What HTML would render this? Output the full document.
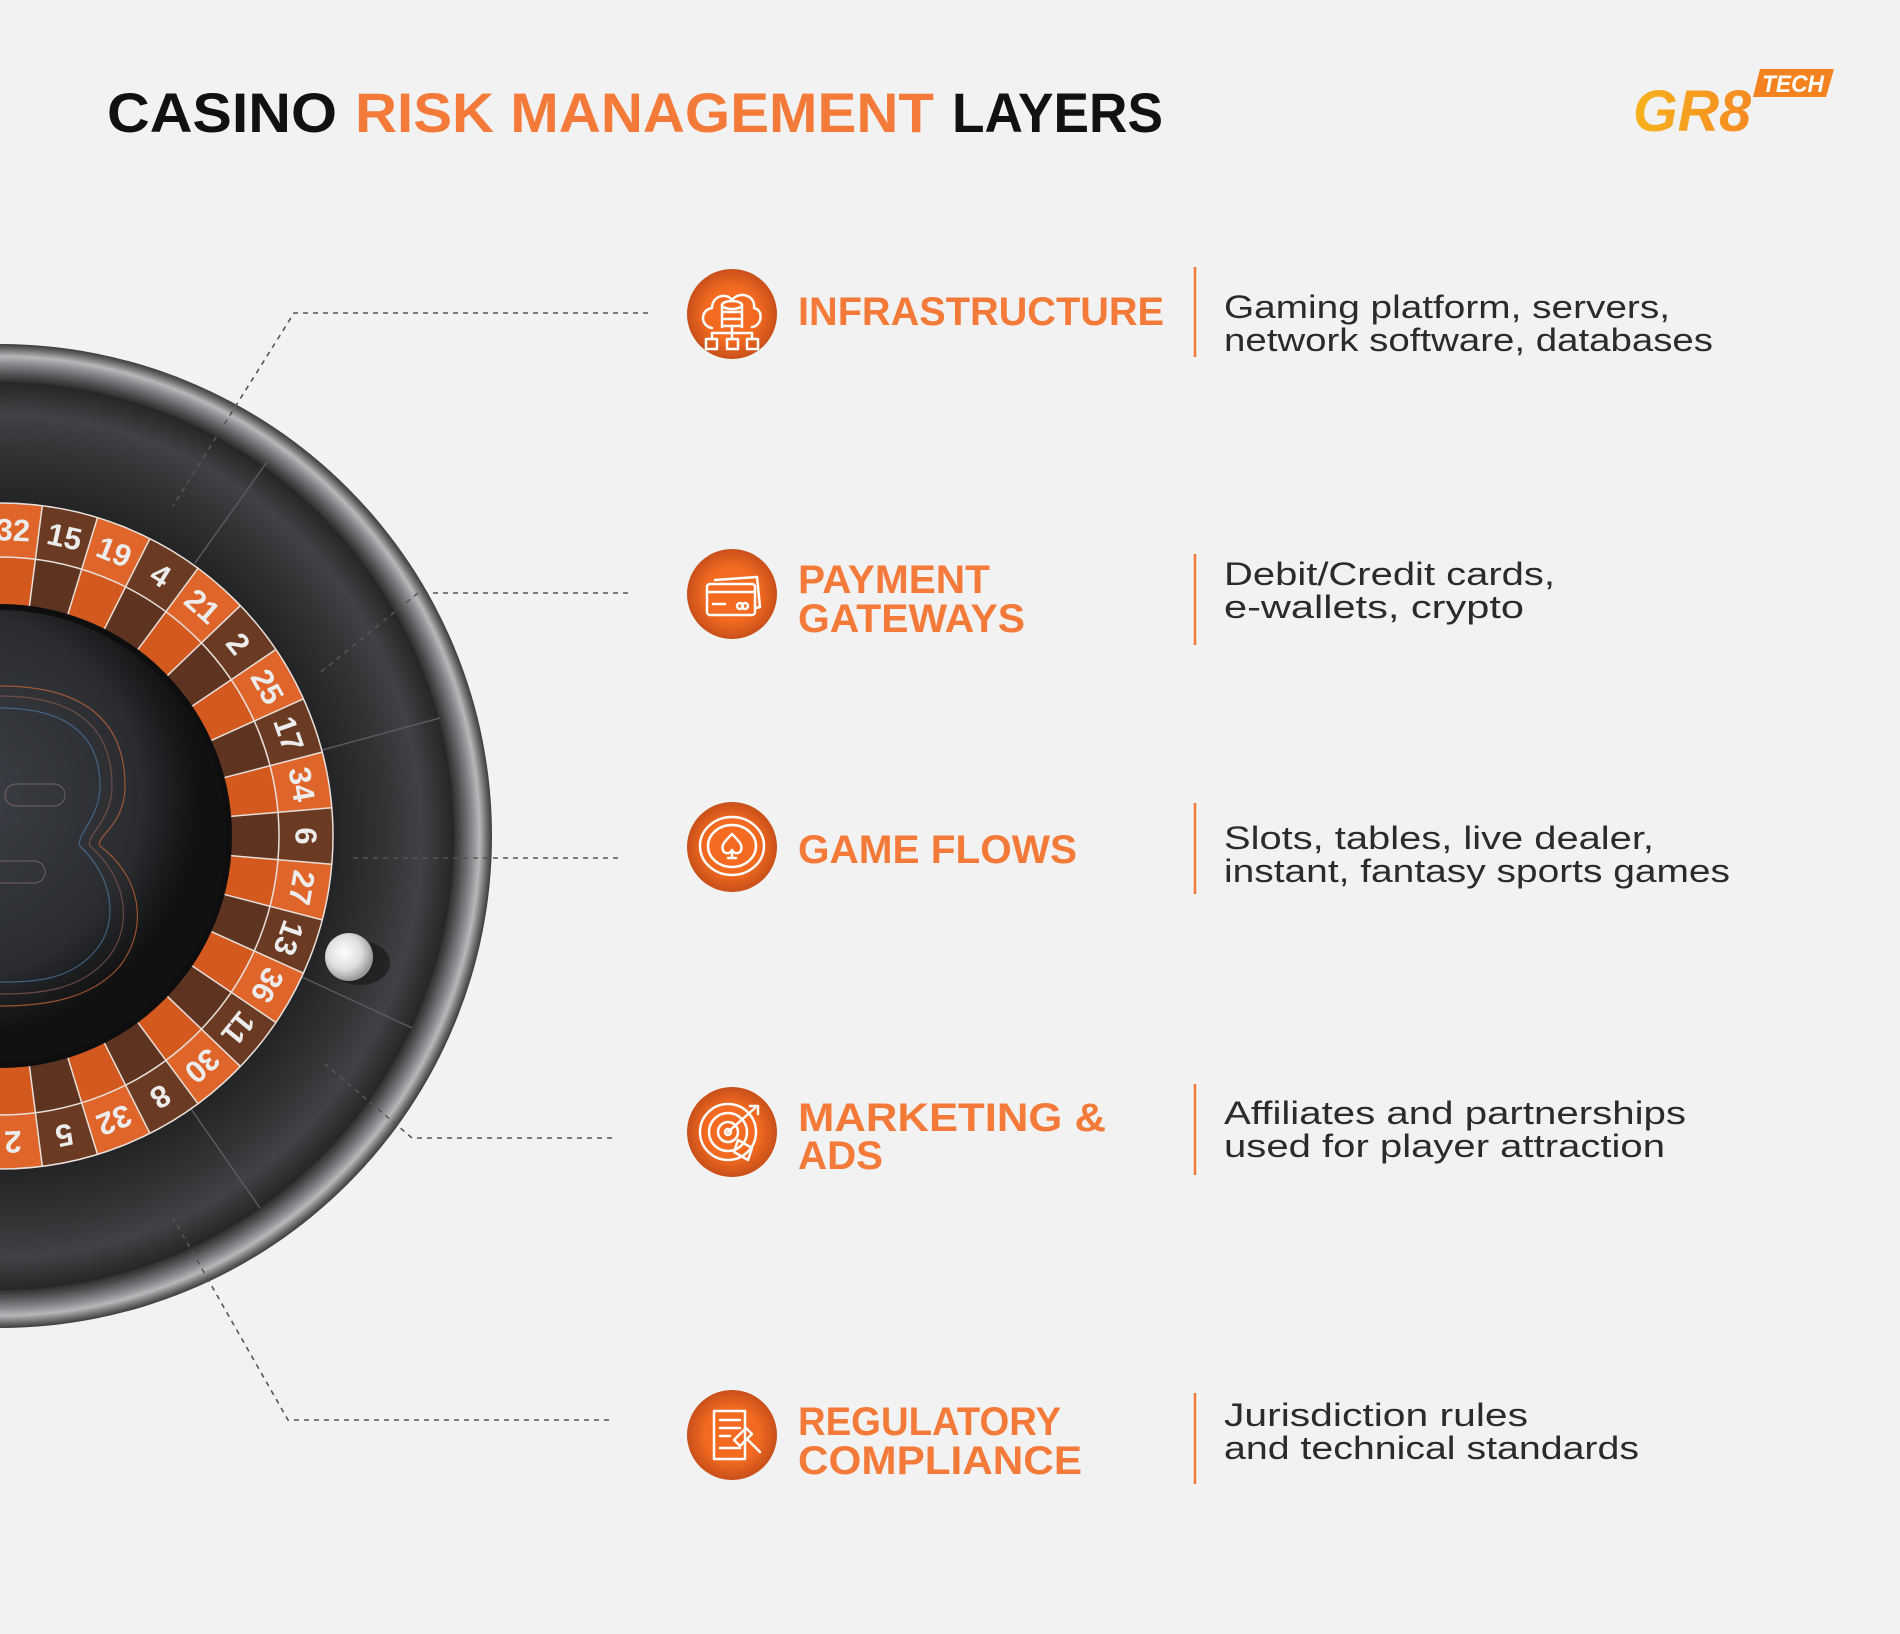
<!DOCTYPE html>
<html><head><meta charset="utf-8"><style>
html,body{margin:0;padding:0;background:#f2f2f2;}
svg{display:block;}
.t{font-family:"Liberation Sans",sans-serif;font-weight:bold;}
.o{fill:#f47a3a;}
.d{font-family:"Liberation Sans",sans-serif;font-size:32px;fill:#2b2b2b;}
.n{font-family:"Liberation Sans",sans-serif;font-weight:bold;font-size:31px;fill:#ececec;text-anchor:middle;dominant-baseline:central;}
.ic{fill:none;stroke:#fff;stroke-width:2.5;stroke-linejoin:round;stroke-linecap:round;}
.dash{fill:none;stroke:#555;stroke-width:1.6;stroke-dasharray:5 5;}
</style></head><body>
<svg width="1900" height="1634" viewBox="0 0 1900 1634" xmlns="http://www.w3.org/2000/svg">
<defs>
<radialGradient id="rim" cx="0" cy="0" r="492" gradientUnits="userSpaceOnUse">
<stop offset="0.92" stop-color="#2a2a2c"/><stop offset="0.935" stop-color="#4a4a4d"/>
<stop offset="0.96" stop-color="#8a8a8e"/><stop offset="0.975" stop-color="#b8b8bb"/>
<stop offset="0.99" stop-color="#6a6a6d"/><stop offset="1" stop-color="#3c3c3e"/>
</radialGradient>
<radialGradient id="track" cx="0" cy="0" r="454" gradientUnits="userSpaceOnUse">
<stop offset="0.72" stop-color="#222224"/><stop offset="0.85" stop-color="#333336"/>
<stop offset="0.93" stop-color="#424246"/><stop offset="1" stop-color="#262628"/>
</radialGradient>
<radialGradient id="pocket" cx="-40" cy="-40" r="240" gradientUnits="userSpaceOnUse">
<stop offset="0" stop-color="#3d4046"/><stop offset="0.75" stop-color="#2a2c30"/>
<stop offset="0.9" stop-color="#1a1b1d"/><stop offset="1" stop-color="#111"/>
</radialGradient>
<radialGradient id="ico" cx="0.5" cy="0.5" r="0.5">
<stop offset="0.6" stop-color="#f36a20"/><stop offset="1" stop-color="#c8501a"/>
</radialGradient>
<radialGradient id="ball" cx="0.4" cy="0.4" r="0.6">
<stop offset="0" stop-color="#fff"/><stop offset="0.6" stop-color="#ddd"/><stop offset="1" stop-color="#999"/>
</radialGradient>
<linearGradient id="logo" x1="0" y1="0" x2="1" y2="0">
<stop offset="0" stop-color="#f7b21c"/><stop offset="1" stop-color="#f58a22"/>
</linearGradient>
<path id="wo" d="M331.8,-28.24 A333,333 0 0 1 331.8,28.24 L278,23.66 A279,279 0 0 0 278,-23.66 Z"/>
<path id="wi" d="M278,-23.66 A279,279 0 0 1 278,23.66 L226.2,19.25 A227,227 0 0 0 226.2,-19.25 Z"/>
</defs>
<rect width="1900" height="1634" fill="#f2f2f2"/>

<!-- title -->
<text class="t" x="107" y="132" font-size="56" textLength="230" lengthAdjust="spacingAndGlyphs" fill="#111">CASINO</text>
<text class="t o" x="355" y="132" font-size="56" textLength="579" lengthAdjust="spacingAndGlyphs">RISK MANAGEMENT</text>
<text class="t" x="952" y="132" font-size="56" textLength="211" lengthAdjust="spacingAndGlyphs" fill="#111">LAYERS</text>

<!-- logo -->
<text x="1633" y="131" font-family="Liberation Sans,sans-serif" font-weight="bold" font-style="italic" font-size="58" fill="url(#logo)" textLength="118" lengthAdjust="spacingAndGlyphs">GR8</text>
<path d="M1760,69 L1834,69 L1826,97 L1753,97 Z" fill="#f4821f"/>
<text x="1762" y="92" font-family="Liberation Sans,sans-serif" font-weight="bold" font-style="italic" font-size="24" fill="#fff" textLength="62" lengthAdjust="spacingAndGlyphs">TECH</text>

<!-- wheel -->
<g transform="translate(0,836)">
<circle r="492" fill="url(#rim)"/>
<circle r="454" fill="url(#track)"/>
<g stroke="#5a5a5e" stroke-width="1.5">
<line x1="195" y1="-273" x2="267" y2="-374"/>
<line x1="322" y1="-86" x2="440" y2="-118"/>
<line x1="302" y1="141" x2="412" y2="192"/>
<line x1="191" y1="273" x2="260" y2="372"/>
</g>
<g>
<use href="#wo" fill="#6b3a22"/><use href="#wi" fill="#5e3320"/>
<g transform="rotate(-9.73)"><use href="#wo" fill="#e0652a"/><use href="#wi" fill="#d4591f"/></g>
<g transform="rotate(-19.46)"><use href="#wo" fill="#6b3a22"/><use href="#wi" fill="#5e3320"/></g>
<g transform="rotate(-29.19)"><use href="#wo" fill="#e0652a"/><use href="#wi" fill="#d4591f"/></g>
<g transform="rotate(-38.92)"><use href="#wo" fill="#6b3a22"/><use href="#wi" fill="#5e3320"/></g>
<g transform="rotate(-48.65)"><use href="#wo" fill="#e0652a"/><use href="#wi" fill="#d4591f"/></g>
<g transform="rotate(-58.38)"><use href="#wo" fill="#6b3a22"/><use href="#wi" fill="#5e3320"/></g>
<g transform="rotate(-68.11)"><use href="#wo" fill="#e0652a"/><use href="#wi" fill="#d4591f"/></g>
<g transform="rotate(-77.84)"><use href="#wo" fill="#6b3a22"/><use href="#wi" fill="#5e3320"/></g>
<g transform="rotate(-87.57)"><use href="#wo" fill="#e0652a"/><use href="#wi" fill="#d4591f"/></g>
<g transform="rotate(-97.3)"><use href="#wo" fill="#2d8a3a"/><use href="#wi" fill="#236e2e"/></g>
<g transform="rotate(9.73)"><use href="#wo" fill="#e0652a"/><use href="#wi" fill="#d4591f"/></g>
<g transform="rotate(19.46)"><use href="#wo" fill="#6b3a22"/><use href="#wi" fill="#5e3320"/></g>
<g transform="rotate(29.19)"><use href="#wo" fill="#e0652a"/><use href="#wi" fill="#d4591f"/></g>
<g transform="rotate(38.92)"><use href="#wo" fill="#6b3a22"/><use href="#wi" fill="#5e3320"/></g>
<g transform="rotate(48.65)"><use href="#wo" fill="#e0652a"/><use href="#wi" fill="#d4591f"/></g>
<g transform="rotate(58.38)"><use href="#wo" fill="#6b3a22"/><use href="#wi" fill="#5e3320"/></g>
<g transform="rotate(68.11)"><use href="#wo" fill="#e0652a"/><use href="#wi" fill="#d4591f"/></g>
<g transform="rotate(77.84)"><use href="#wo" fill="#6b3a22"/><use href="#wi" fill="#5e3320"/></g>
<g transform="rotate(87.57)"><use href="#wo" fill="#e0652a"/><use href="#wi" fill="#d4591f"/></g>
<g transform="rotate(97.3)"><use href="#wo" fill="#6b3a22"/><use href="#wi" fill="#5e3320"/></g>
</g>
<g fill="none" stroke="#e8e0da" stroke-width="1.5"><circle r="333"/><circle r="279"/></g>
<g stroke="#e8e0da" stroke-width="1.5">
<line x1="226.2" y1="19.25" x2="331.8" y2="28.24" transform="rotate(0)"/>
<line x1="226.2" y1="19.25" x2="331.8" y2="28.24" transform="rotate(-9.73)"/>
<line x1="226.2" y1="19.25" x2="331.8" y2="28.24" transform="rotate(-19.46)"/>
<line x1="226.2" y1="19.25" x2="331.8" y2="28.24" transform="rotate(-29.19)"/>
<line x1="226.2" y1="19.25" x2="331.8" y2="28.24" transform="rotate(-38.92)"/>
<line x1="226.2" y1="19.25" x2="331.8" y2="28.24" transform="rotate(-48.65)"/>
<line x1="226.2" y1="19.25" x2="331.8" y2="28.24" transform="rotate(-58.38)"/>
<line x1="226.2" y1="19.25" x2="331.8" y2="28.24" transform="rotate(-68.11)"/>
<line x1="226.2" y1="19.25" x2="331.8" y2="28.24" transform="rotate(-77.84)"/>
<line x1="226.2" y1="19.25" x2="331.8" y2="28.24" transform="rotate(-87.57)"/>
<line x1="226.2" y1="19.25" x2="331.8" y2="28.24" transform="rotate(-97.3)"/>
<line x1="226.2" y1="19.25" x2="331.8" y2="28.24" transform="rotate(-107.03)"/>
<line x1="226.2" y1="19.25" x2="331.8" y2="28.24" transform="rotate(9.73)"/>
<line x1="226.2" y1="19.25" x2="331.8" y2="28.24" transform="rotate(19.46)"/>
<line x1="226.2" y1="19.25" x2="331.8" y2="28.24" transform="rotate(29.19)"/>
<line x1="226.2" y1="19.25" x2="331.8" y2="28.24" transform="rotate(38.92)"/>
<line x1="226.2" y1="19.25" x2="331.8" y2="28.24" transform="rotate(48.65)"/>
<line x1="226.2" y1="19.25" x2="331.8" y2="28.24" transform="rotate(58.38)"/>
<line x1="226.2" y1="19.25" x2="331.8" y2="28.24" transform="rotate(68.11)"/>
<line x1="226.2" y1="19.25" x2="331.8" y2="28.24" transform="rotate(77.84)"/>
<line x1="226.2" y1="19.25" x2="331.8" y2="28.24" transform="rotate(87.57)"/>
<line x1="226.2" y1="19.25" x2="331.8" y2="28.24" transform="rotate(97.3)"/>
</g>
<text class="n" transform="rotate(0) translate(306,0) rotate(90)">6</text>
<text class="n" transform="rotate(-9.73) translate(306,0) rotate(90)">34</text>
<text class="n" transform="rotate(-19.46) translate(306,0) rotate(90)">17</text>
<text class="n" transform="rotate(-29.19) translate(306,0) rotate(90)">25</text>
<text class="n" transform="rotate(-38.92) translate(306,0) rotate(90)">2</text>
<text class="n" transform="rotate(-48.65) translate(306,0) rotate(90)">21</text>
<text class="n" transform="rotate(-58.38) translate(306,0) rotate(90)">4</text>
<text class="n" transform="rotate(-68.11) translate(306,0) rotate(90)">19</text>
<text class="n" transform="rotate(-77.84) translate(306,0) rotate(90)">15</text>
<text class="n" transform="rotate(-87.57) translate(306,0) rotate(90)">32</text>
<text class="n" transform="rotate(9.73) translate(306,0) rotate(90)">27</text>
<text class="n" transform="rotate(19.46) translate(306,0) rotate(90)">13</text>
<text class="n" transform="rotate(29.19) translate(306,0) rotate(90)">36</text>
<text class="n" transform="rotate(38.92) translate(306,0) rotate(90)">11</text>
<text class="n" transform="rotate(48.65) translate(306,0) rotate(90)">30</text>
<text class="n" transform="rotate(58.38) translate(306,0) rotate(90)">8</text>
<text class="n" transform="rotate(68.11) translate(306,0) rotate(90)">32</text>
<text class="n" transform="rotate(77.84) translate(306,0) rotate(90)">5</text>
<text class="n" transform="rotate(87.57) translate(306,0) rotate(90)">2</text>
<circle r="229" fill="url(#pocket)"/>
<circle r="229" fill="none" stroke="#0e0e0f" stroke-width="6"/>
<g fill="none" stroke-width="1.2" opacity="0.7">
<path d="M0,-150 C90,-150 125,-110 125,-50 C125,-10 95,0 100,10 C140,40 150,90 120,130 C90,165 40,170 0,170" stroke="#d06a38"/>
<path d="M0,-140 C80,-140 112,-105 112,-50 C112,-15 85,0 90,10 C125,40 135,88 108,122 C80,155 38,158 0,158" stroke="#8a5a50"/>
<path d="M0,-128 C70,-128 100,-98 100,-50 C100,-18 75,0 80,10 C112,40 120,85 96,114 C70,145 34,146 0,146" stroke="#4a7aa8"/>
<rect x="5" y="-52" width="60" height="22" rx="11" stroke="#7a6a70"/>
<rect x="-10" y="25" width="55" height="22" rx="11" stroke="#7a6a70"/>
</g>
<ellipse cx="360" cy="127" rx="30" ry="22" fill="#1a1a1b" opacity="0.7"/>
<circle cx="349" cy="121" r="24" fill="url(#ball)"/>
</g>

<!-- connectors -->
<path class="dash" d="M648,313 L294,313 L173,506"/>
<path class="dash" d="M628,593 L418,593 L321,672"/>
<path class="dash" d="M618,858 L348,858"/>
<path class="dash" d="M612,1138 L412,1138 L325,1064"/>
<path class="dash" d="M609,1420 L288,1420 L173,1218"/>

<!-- icons -->
<g>
<circle cx="732" cy="314" r="45" fill="url(#ico)"/>
<path class="ic" d="M712,328 C700,326 700,310 712,308 C712,296 726,292 732,300 C740,290 756,296 754,308 C764,310 762,326 752,327"/>
<ellipse class="ic" cx="732" cy="305" rx="10" ry="4"/><path class="ic" d="M722,305 V327 M742,305 V327 M722,312 H742 M722,319 H742 M722,326 H742"/>
<path class="ic" d="M732,328 V333 M712,333 H752 M712,333 V339 M732,333 V339 M752,333 V339"/>
<rect class="ic" x="706" y="339" width="11" height="10"/><rect class="ic" x="727" y="339" width="11" height="10"/><rect class="ic" x="747" y="339" width="11" height="10"/>

<circle cx="732" cy="594" r="45" fill="url(#ico)"/>
<path class="ic" d="M715,580 L757,577 L760,607 L756,608"/>
<rect class="ic" x="707" y="584" width="48" height="31" rx="3"/><path class="ic" d="M707,592 H755 M713,604 H725"/><circle class="ic" cx="740" cy="606" r="3"/><circle class="ic" cx="745" cy="606" r="3"/>

<circle cx="732" cy="847" r="45" fill="url(#ico)"/>
<ellipse class="ic" cx="732" cy="846" rx="32" ry="29"/><ellipse class="ic" cx="732" cy="846" rx="24" ry="21"/>
<path class="ic" d="M732,834 C740,842 744,846 740,852 C736,855 733,852 732,850 C731,852 728,855 724,852 C720,846 724,842 732,834 Z M732,850 V858 M728,858 H736"/>

<circle cx="732" cy="1132" r="45" fill="url(#ico)"/>
<circle class="ic" cx="728" cy="1132" r="28"/><circle class="ic" cx="728" cy="1132" r="19"/><circle class="ic" cx="728" cy="1132" r="10"/><circle class="ic" cx="728" cy="1132" r="3"/>
<path class="ic" d="M728,1132 L755,1108 M750,1106 H758 V1114 M738,1140 L752,1148 L748,1160 L734,1152 Z"/>

<circle cx="732" cy="1435" r="45" fill="url(#ico)"/>
<path class="ic" d="M714,1411 H745 V1459 H714 Z M720,1420 H740 M720,1428 H740 M720,1436 H730 M720,1448 H740"/>
<path class="ic" d="M734,1440 L746,1428 L752,1434 L740,1446 Z M748,1440 L760,1452"/>
</g>

<!-- titles -->
<g class="t o" font-size="40">
<text x="798" y="325" textLength="366" lengthAdjust="spacingAndGlyphs">INFRASTRUCTURE</text>
<text x="798" y="593" textLength="192" lengthAdjust="spacingAndGlyphs">PAYMENT</text>
<text x="798" y="632" textLength="227" lengthAdjust="spacingAndGlyphs">GATEWAYS</text>
<text x="798" y="863" textLength="279" lengthAdjust="spacingAndGlyphs">GAME FLOWS</text>
<text x="798" y="1131" textLength="308" lengthAdjust="spacingAndGlyphs">MARKETING &amp;</text>
<text x="798" y="1169" textLength="85" lengthAdjust="spacingAndGlyphs">ADS</text>
<text x="798" y="1435" textLength="263" lengthAdjust="spacingAndGlyphs">REGULATORY</text>
<text x="798" y="1474" textLength="284" lengthAdjust="spacingAndGlyphs">COMPLIANCE</text>
</g>

<!-- separators -->
<g stroke="#f47a3a" stroke-width="2.5">
<line x1="1195" y1="267" x2="1195" y2="357"/>
<line x1="1195" y1="554" x2="1195" y2="645"/>
<line x1="1195" y1="803" x2="1195" y2="894"/>
<line x1="1195" y1="1084" x2="1195" y2="1175"/>
<line x1="1195" y1="1393" x2="1195" y2="1484"/>
</g>

<!-- descriptions -->
<g class="d">
<text x="1224" y="318" textLength="446" lengthAdjust="spacingAndGlyphs">Gaming platform, servers,</text>
<text x="1224" y="351" textLength="489" lengthAdjust="spacingAndGlyphs">network software, databases</text>
<text x="1224" y="585" textLength="331" lengthAdjust="spacingAndGlyphs">Debit/Credit cards,</text>
<text x="1224" y="618" textLength="300" lengthAdjust="spacingAndGlyphs">e-wallets, crypto</text>
<text x="1224" y="849" textLength="430" lengthAdjust="spacingAndGlyphs">Slots, tables, live dealer,</text>
<text x="1224" y="882" textLength="506" lengthAdjust="spacingAndGlyphs">instant, fantasy sports games</text>
<text x="1224" y="1124" textLength="462" lengthAdjust="spacingAndGlyphs">Affiliates and partnerships</text>
<text x="1224" y="1157" textLength="441" lengthAdjust="spacingAndGlyphs">used for player attraction</text>
<text x="1224" y="1426" textLength="304" lengthAdjust="spacingAndGlyphs">Jurisdiction rules</text>
<text x="1224" y="1459" textLength="415" lengthAdjust="spacingAndGlyphs">and technical standards</text>
</g>
</svg>
</body></html>
